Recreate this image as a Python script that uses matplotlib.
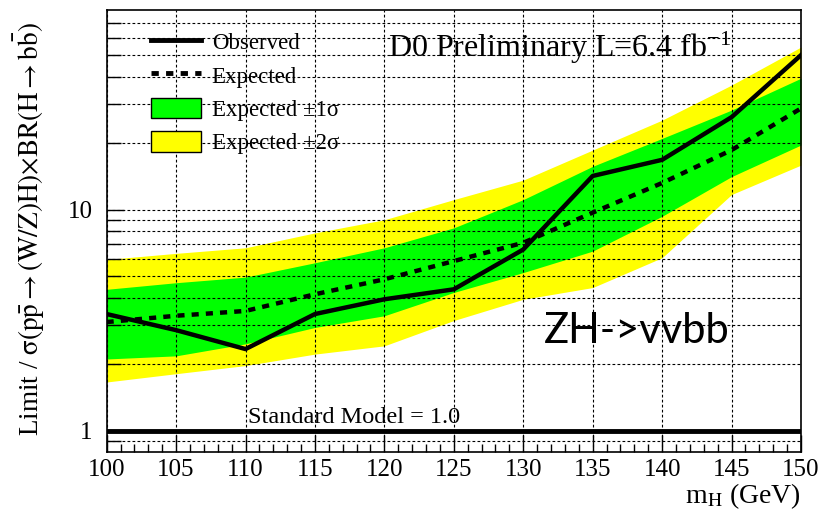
import matplotlib
matplotlib.use("Agg")
import matplotlib.pyplot as plt
from matplotlib.lines import Line2D
from matplotlib.patches import Patch
from matplotlib.ticker import FixedLocator, NullFormatter, FixedFormatter

plt.rcParams['font.family'] = ['Liberation Serif', 'DejaVu Serif']
plt.rcParams['mathtext.fontset'] = 'stix'

# Higgs masses and limit ratios (limit / SM)
masses = [100, 105, 110, 115, 120, 125, 130, 135, 140, 145, 150]
observed = [3.37, 2.85, 2.34, 3.37, 3.93, 4.36, 6.6, 14.2, 16.8, 26.2, 50.0]
expected = [3.1, 3.31, 3.48, 4.14, 4.84, 5.85, 7.08, 9.69, 13.2, 18.6, 28.7]
exp_1s_up = [4.36, 4.67, 4.95, 5.75, 6.72, 8.27, 11.1, 15.7, 21.0, 28.2, 39.3]
exp_1s_dn = [2.11, 2.18, 2.47, 2.93, 3.31, 4.22, 5.19, 6.49, 9.33, 14.1, 19.6]
exp_2s_up = [5.95, 6.34, 6.72, 7.85, 9.0, 11.1, 13.6, 18.6, 25.4, 36.6, 54.4]
exp_2s_dn = [1.66, 1.81, 1.97, 2.22, 2.42, 3.15, 3.93, 4.44, 6.06, 11.7, 15.9]

x_ticks = [100, 105, 110, 115, 120, 125, 130, 135, 140, 145, 150]
y_grid = [0.9, 1, 2, 3, 4, 5, 6, 7, 8, 9, 10, 20, 30, 40, 50, 60, 70]
sm_value = 1.0

fig = plt.figure(figsize=(8.33, 5.12), dpi=100)
ax = fig.add_axes([0.128, 0.117, 0.9616 - 0.128, 0.9805 - 0.117])

ax.fill_between(masses, exp_2s_dn, exp_2s_up, color='#ffff00', lw=0, zorder=1)
ax.fill_between(masses, exp_1s_dn, exp_1s_up, color='#00ff00', lw=0, zorder=1.2)
ax.plot(masses, expected, color='black', lw=3.2, dashes=(1.6, 1.6), zorder=3)
ax.plot(masses, observed, color='black', lw=3.2, zorder=3.1)
ax.axhline(sm_value, color='black', lw=3.5, zorder=3)

ax.set_yscale('log')
ax.set_xlim(100, 150)
ax.set_ylim(0.8, 80)

# ticks: labels only at 1 and 10, grid at every decade step
ax.yaxis.set_major_locator(FixedLocator([1, 10]))
ax.yaxis.set_major_formatter(FixedFormatter(['1', '10']))
ax.yaxis.set_minor_locator(FixedLocator([v for v in y_grid if v not in (1, 10)]))
ax.yaxis.set_minor_formatter(NullFormatter())
ax.set_xticks(x_ticks)
ax.set_xticks(range(100, 151), minor=True)

ax.tick_params(axis='both', which='major', direction='in', length=12, width=1,
               labelsize=18, pad=10)
ax.tick_params(axis='both', which='minor', direction='in', length=10, width=1)
ax.tick_params(axis='x', which='minor', length=6)
ax.tick_params(axis='x', which='major', length=12, pad=5)

ax.set_axisbelow(False)
ax.grid(True, which='major', axis='x', color='black', lw=0.8, ls=(0, (2.5, 2)))
ax.grid(True, which='both', axis='y', color='black', lw=0.8, ls=(0, (2.5, 2)))
for s in ax.spines.values():
    s.set_linewidth(1.2)

ax.set_ylabel(r'Limit / $\mathrm{\sigma}(\mathrm{p}\bar{\mathrm{p}}{\rightarrow}(\mathrm{W/Z})\mathrm{H})'
              r'{\times}\mathrm{BR}(\mathrm{H}{\rightarrow}\mathrm{b}\bar{\mathrm{b}})$',
              fontsize=19.5)
ax.yaxis.set_label_coords(-0.086, 0.505)
ax.set_xlabel(r'm$_{\mathrm{H}}$ (GeV)', fontsize=20, loc='right', labelpad=0)

ax.text(0.405, 0.915, r'D0 Preliminary L=6.4 fb$^{\mathregular{-1}}$', transform=ax.transAxes,
        fontsize=23, ha='left', va='center')
ax.text(0.203, 0.079, 'Standard Model = 1.0', transform=ax.transAxes,
        fontsize=17.5, ha='left', va='center')
ax.text(0.63, 0.275, 'ZH->vvbb', transform=ax.transAxes, family='Lato',
        fontsize=30, ha='left', va='center')

handles = [
    Line2D([], [], color='black', lw=3.5),
    Line2D([], [], color='black', lw=3.5, dashes=(1.5, 1.5)),
    Patch(facecolor='#00ff00', edgecolor='black', lw=1),
    Patch(facecolor='#ffff00', edgecolor='black', lw=1),
]
labels = ['Observed', 'Expected', 'Expected ±1σ', 'Expected ±2σ']
ax.legend(handles, labels, loc='upper left', bbox_to_anchor=(151 / 833, 1 - 31 / 512),
          bbox_transform=fig.transFigure, frameon=False, fontsize=16.5,
          handlelength=2.2, handleheight=1.0, handletextpad=0.45,
          labelspacing=0.45, borderpad=0, borderaxespad=0)

fig.savefig('out.png', dpi=100)
